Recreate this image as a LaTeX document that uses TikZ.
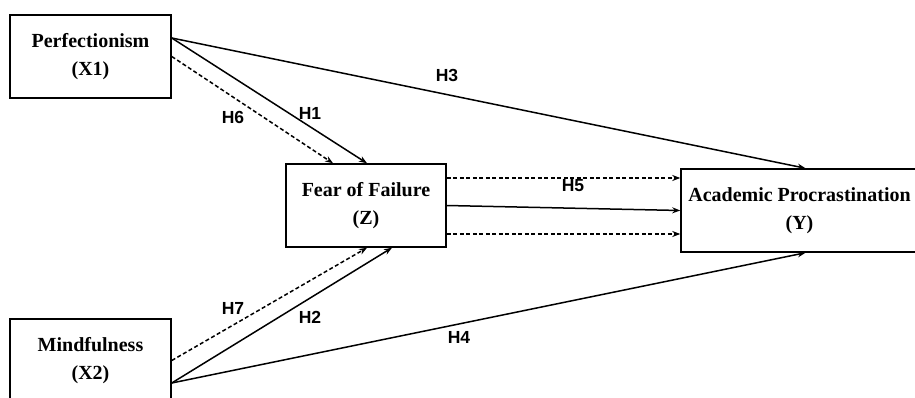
\documentclass[tikz,border=0pt]{standalone}
\usepackage{fontspec}
\setmainfont{Liberation Serif}
\newfontfamily\lblfont{Liberation Sans}
\usetikzlibrary{arrows.meta}
\tikzset{
  box/.style={draw=black, line width=1.5pt, rectangle, minimum width=#1, minimum height=83pt,
    inner sep=0pt, align=center, font=\fontsize{20pt}{28pt}\selectfont\bfseries},
  box/.default=160pt,
  conn/.style={line width=1.5pt, -{Stealth[length=8pt,width=6pt]}},
  dconn/.style={conn, dash pattern=on 4pt off 2.5pt},
  hlbl/.style={font=\fontsize{17.5pt}{19pt}\selectfont\lblfont\bfseries, inner sep=0pt}
}
\begin{document}
\begin{tikzpicture}[x=1pt,y=-1pt]
\useasboundingbox (0,0) rectangle (915,398);
% boxes
\node[box=161pt] (P) at (90.5,56.5) {Perfectionism\\(X1)};
\node[box=161pt] (M) at (90.5,360.5) {Mindfulness\\(X2)};
\node[box=160pt] (Z) at (366,205.5) {Fear of Failure\\(Z)};
\node[box=237pt] (Y) at (799.5,210.5) {Academic Procrastination\\(Y)};
% connectors
\draw[conn] ([yshift=18.5pt]P.east) -- ([xshift=6pt]Y.north);
\draw[conn] ([yshift=18.5pt]P.east) -- ([xshift=1pt]Z.north);
\draw[dconn] (P.east) -- ([xshift=-33pt]Z.north);
\draw[conn] ([yshift=-22.5pt]M.east) -- ([xshift=6pt]Y.south);
\draw[conn] ([yshift=-22.5pt]M.east) -- ([xshift=26pt]Z.south);
\draw[dconn] (M.east) -- ([xshift=1pt]Z.south);
\draw[dconn] ([yshift=27.5pt]Z.east) -- ([yshift=32.5pt]Y.west);
\draw[conn] (Z.east) -- (Y.west);
\draw[dconn] ([yshift=-28.5pt]Z.east) -- ([yshift=-23.5pt]Y.west);
% labels
\node[hlbl] (h3) at (447,75) {H3};
\node[hlbl] (h1) at (310,113) {H1};
\node[hlbl] (h6) at (233,117) {H6};
\node[hlbl] (h5) at (573,186) {H5};
\node[hlbl] (h7) at (233,308) {H7};
\node[hlbl] (h2) at (310,317) {H2};
\node[hlbl] (h4) at (459,337) {H4};
\end{tikzpicture}
\end{document}
